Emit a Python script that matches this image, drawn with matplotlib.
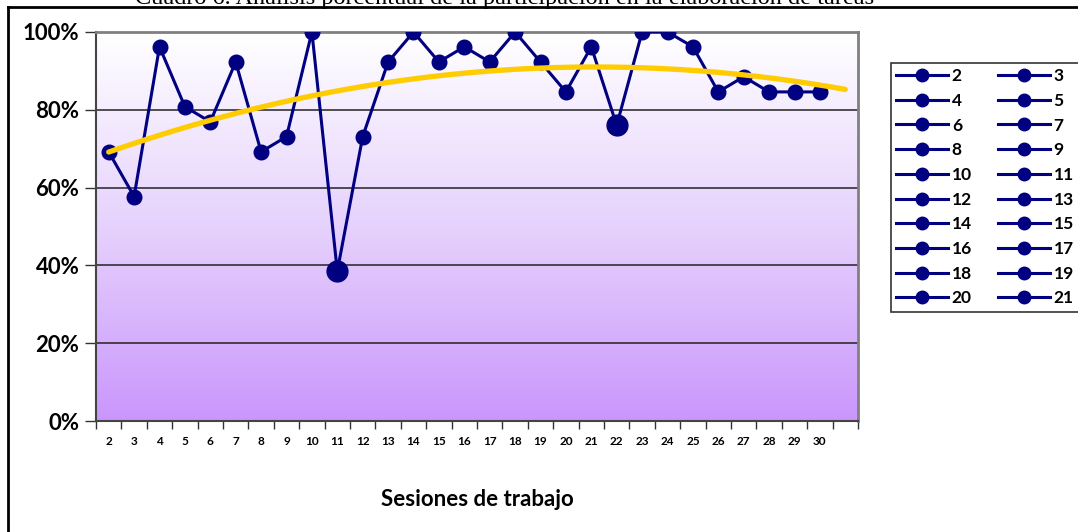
import numpy as np
import matplotlib.pyplot as plt
from matplotlib.lines import Line2D
from matplotlib.colors import LinearSegmentedColormap

# sesiones 2..30 (la ultima categoria queda vacia en el eje)
sesiones = [str(s) for s in range(2, 31)] + ['']
participacion = [69.2, 57.7, 96.2, 80.8, 76.9, 92.3, 69.2, 73.1, 100.0, 38.5,
                 73.1, 92.3, 100.0, 92.3, 96.2, 92.3, 100.0, 92.3, 84.6, 96.2,
                 76.0, 100.0, 100.0, 96.2, 84.6, 88.5, 84.6, 84.6, 84.6]
destacados = [11, 22]
leyenda = [str(s) for s in range(2, 22)]

titulo = 'Cuadro 6. Análisis porcentual de la participación en la elaboración de tareas'

plt.rcParams['font.family'] = ['Lato', 'DejaVu Sans']

fig = plt.figure(figsize=(10.78, 5.32), dpi=100)
ax = fig.add_axes([96 / 1078, 111 / 532, 762 / 1078, 389 / 532])

# fondo degradado blanco -> lila
cmap = LinearSegmentedColormap.from_list('lila', ['#ca96fc', '#e6d2fd', '#ffffff'])
grad = np.linspace(0, 1, 256).reshape(-1, 1)
ax.imshow(grad, aspect='auto', cmap=cmap, origin='lower',
          extent=[-0.5, len(sesiones) - 0.5, 0, 100], zorder=0)

x = np.arange(len(participacion))
y = np.array(participacion)

# linea de tendencia polinomica de orden 2
coef = np.polyfit(x, y, 2)
xt = np.linspace(0, len(sesiones) - 1, 200)
ax.plot(xt, np.polyval(coef, xt), color='#ffcc00', lw=3.8, zorder=4, solid_capstyle='round')

ax.plot(x, y, color='#000080', lw=2.2, marker='o', ms=10.5, zorder=3)
for s in destacados:
    i = s - 2
    ax.plot(x[i], y[i], 'o', color='#000080', ms=15, zorder=5)

ax.set_xlim(-0.5, len(sesiones) - 0.5)
ax.set_ylim(0, 100)
ax.set_yticks(np.arange(0, 101, 20))
ax.set_yticklabels([f'{v}%' for v in range(0, 101, 20)], fontsize=16, fontweight='bold')
ax.set_xticks(x.tolist() + [len(sesiones) - 1])
ax.set_xticklabels(sesiones, fontsize=8.5, fontweight='bold')
ax.set_xticks(np.arange(-0.5, len(sesiones)), minor=True)
ax.tick_params(axis='x', which='major', length=0, pad=11)
ax.tick_params(axis='x', which='minor', length=6, width=1, color='#333333', direction='out')
ax.tick_params(axis='y', length=8, width=1, color='#333333', pad=4)

for v in [20, 40, 60, 80]:
    ax.axhline(v, color='#222222', lw=1.1, zorder=1)

for side in ['top', 'right']:
    ax.spines[side].set_color('#808080')
    ax.spines[side].set_linewidth(2)
ax.spines['left'].set_color('#444444')
ax.spines['bottom'].set_color('#444444')
ax.spines['left'].set_linewidth(1.5)
ax.spines['bottom'].set_linewidth(1.5)

ax.set_xlabel('Sesiones de trabajo', fontsize=16, fontweight='bold', labelpad=30)

# leyenda: una entrada por sesion, dos columnas
handles = {s: Line2D([], [], color='#000080', lw=2.2, marker='o', ms=9) for s in leyenda}
orden = leyenda[0::2] + leyenda[1::2]
leg = fig.legend([handles[s] for s in orden], orden, ncol=2, loc='upper left',
                 bbox_to_anchor=(891 / 1078, 1 - 63 / 532), frameon=True, fancybox=False,
                 edgecolor='black', prop={'weight': 'bold', 'size': 12.5},
                 handlelength=3.0, handletextpad=0.2, columnspacing=1.5,
                 labelspacing=0.5, borderpad=0.3, borderaxespad=0)
leg.get_frame().set_linewidth(1.2)

# marco del cuadro y titulo cortado arriba
fig.add_artist(Line2D([8 / 1078, 1], [1 - 7 / 532, 1 - 7 / 532], color='black', lw=2))
fig.add_artist(Line2D([8 / 1078, 8 / 1078], [0, 1 - 7 / 532], color='black', lw=2))
fig.text(135 / 1078, 1 - 4 / 532, titulo, family='Liberation Serif', fontsize=17.5,
         va='baseline', ha='left')

fig.savefig('out.png', dpi=100)
